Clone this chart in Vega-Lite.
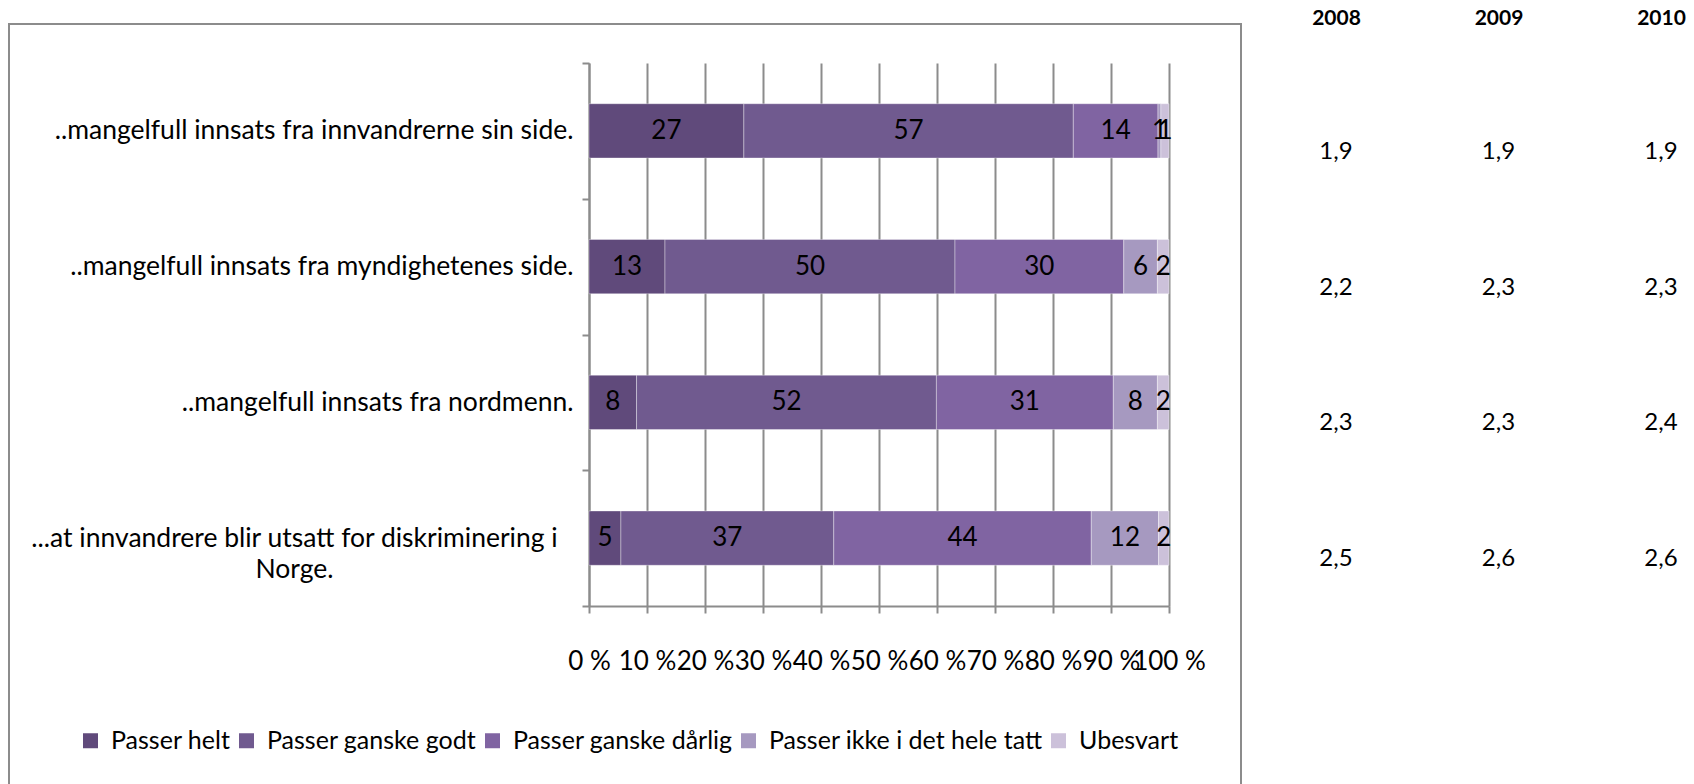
{
  "$schema": "https://vega.github.io/schema/vega-lite/v6.json",
  "autosize": {"type": "none"},
  "width": 1232,
  "height": 770,
  "padding": {"left": 9, "top": 24, "right": 453, "bottom": 0},
  "background": "white",
  "config": {
    "view": {"stroke": "#8c8c8c", "strokeWidth": 2},
    "font": "Lato",
    "text": {"font": "Lato"},
    "axis": {"labelFont": "Lato", "labelColor": "black", "domainColor": "#8c8c8c", "tickColor": "#8c8c8c", "gridColor": "#8c8c8c", "domainWidth": 2, "tickWidth": 2, "gridWidth": 2, "gridOpacity": 1}
  },
  "datasets": {
    "bars": [
      {"cat": "..mangelfull innsats fra innvandrerne sin side.", "resp": "Passer helt", "ord": 1, "value": 26.7, "label": "27"},
      {"cat": "..mangelfull innsats fra innvandrerne sin side.", "resp": "Passer ganske godt", "ord": 2, "value": 56.8, "label": "57"},
      {"cat": "..mangelfull innsats fra innvandrerne sin side.", "resp": "Passer ganske dårlig", "ord": 3, "value": 14.6, "label": "14"},
      {"cat": "..mangelfull innsats fra innvandrerne sin side.", "resp": "Passer ikke i det hele tatt", "ord": 4, "value": 0.5, "label": "1"},
      {"cat": "..mangelfull innsats fra innvandrerne sin side.", "resp": "Ubesvart", "ord": 5, "value": 1.4, "label": "1"},
      {"cat": "..mangelfull innsats fra myndighetenes side.", "resp": "Passer helt", "ord": 1, "value": 13.1, "label": "13"},
      {"cat": "..mangelfull innsats fra myndighetenes side.", "resp": "Passer ganske godt", "ord": 2, "value": 50.0, "label": "50"},
      {"cat": "..mangelfull innsats fra myndighetenes side.", "resp": "Passer ganske dårlig", "ord": 3, "value": 29.1, "label": "30"},
      {"cat": "..mangelfull innsats fra myndighetenes side.", "resp": "Passer ikke i det hele tatt", "ord": 4, "value": 5.8, "label": "6"},
      {"cat": "..mangelfull innsats fra myndighetenes side.", "resp": "Ubesvart", "ord": 5, "value": 2.0, "label": "2"},
      {"cat": "..mangelfull innsats fra nordmenn.", "resp": "Passer helt", "ord": 1, "value": 8.2, "label": "8"},
      {"cat": "..mangelfull innsats fra nordmenn.", "resp": "Passer ganske godt", "ord": 2, "value": 51.7, "label": "52"},
      {"cat": "..mangelfull innsats fra nordmenn.", "resp": "Passer ganske dårlig", "ord": 3, "value": 30.5, "label": "31"},
      {"cat": "..mangelfull innsats fra nordmenn.", "resp": "Passer ikke i det hele tatt", "ord": 4, "value": 7.6, "label": "8"},
      {"cat": "..mangelfull innsats fra nordmenn.", "resp": "Ubesvart", "ord": 5, "value": 2.0, "label": "2"},
      {"cat": "...at innvandrere blir utsatt for diskriminering i Norge.", "resp": "Passer helt", "ord": 1, "value": 5.5, "label": "5"},
      {"cat": "...at innvandrere blir utsatt for diskriminering i Norge.", "resp": "Passer ganske godt", "ord": 2, "value": 36.7, "label": "37"},
      {"cat": "...at innvandrere blir utsatt for diskriminering i Norge.", "resp": "Passer ganske dårlig", "ord": 3, "value": 44.4, "label": "44"},
      {"cat": "...at innvandrere blir utsatt for diskriminering i Norge.", "resp": "Passer ikke i det hele tatt", "ord": 4, "value": 11.6, "label": "12"},
      {"cat": "...at innvandrere blir utsatt for diskriminering i Norge.", "resp": "Ubesvart", "ord": 5, "value": 1.8, "label": "2"}
    ],
    "table": [
      {"cat": "..mangelfull innsats fra innvandrerne sin side.", "year": "2008", "score": "1,9"},
      {"cat": "..mangelfull innsats fra innvandrerne sin side.", "year": "2009", "score": "1,9"},
      {"cat": "..mangelfull innsats fra innvandrerne sin side.", "year": "2010", "score": "1,9"},
      {"cat": "..mangelfull innsats fra myndighetenes side.", "year": "2008", "score": "2,2"},
      {"cat": "..mangelfull innsats fra myndighetenes side.", "year": "2009", "score": "2,3"},
      {"cat": "..mangelfull innsats fra myndighetenes side.", "year": "2010", "score": "2,3"},
      {"cat": "..mangelfull innsats fra nordmenn.", "year": "2008", "score": "2,3"},
      {"cat": "..mangelfull innsats fra nordmenn.", "year": "2009", "score": "2,3"},
      {"cat": "..mangelfull innsats fra nordmenn.", "year": "2010", "score": "2,4"},
      {"cat": "...at innvandrere blir utsatt for diskriminering i Norge.", "year": "2008", "score": "2,5"},
      {"cat": "...at innvandrere blir utsatt for diskriminering i Norge.", "year": "2009", "score": "2,6"},
      {"cat": "...at innvandrere blir utsatt for diskriminering i Norge.", "year": "2010", "score": "2,6"}
    ]
  },
  "layer": [
    {
      "data": {"name": "bars"},
      "transform": [
        {"stack": "value", "groupby": ["cat"], "sort": [{"field": "ord", "order": "ascending"}], "as": ["v0", "v1"]},
        {"calculate": "(datum.v0 + datum.v1) / 2", "as": "mid"}
      ],
      "layer": [
        {
          "mark": {"type": "bar", "height": {"band": 0.4}, "stroke": "white", "strokeWidth": 0.6, "strokeOpacity": 0.6},
          "encoding": {
            "y": {
              "field": "cat", "type": "nominal",
              "scale": {"domain": ["..mangelfull innsats fra innvandrerne sin side.", "..mangelfull innsats fra myndighetenes side.", "..mangelfull innsats fra nordmenn.", "...at innvandrere blir utsatt for diskriminering i Norge."], "range": [39, 582], "paddingInner": 0, "paddingOuter": 0},
              "axis": {
                "title": null, "orient": "left", "offset": -580, "tickBand": "extent", "tickSize": 7,
                "labelFontSize": 26.5, "labelLimit": 800, "labelLineHeight": 31,
                "labelPadding": {"condition": {"test": "datum.value == '...at innvandrere blir utsatt for diskriminering i Norge.'", "value": 288}, "value": 9},
                "labelAlign": {"condition": {"test": "datum.value == '...at innvandrere blir utsatt for diskriminering i Norge.'", "value": "center"}, "value": "right"},
                "labelExpr": "datum.value == '...at innvandrere blir utsatt for diskriminering i Norge.' ? ['...at innvandrere blir utsatt for diskriminering i', 'Norge.'] : datum.label",
                "grid": false
              }
            },
            "x": {
              "field": "v0", "type": "quantitative",
              "scale": {"domain": [0, 100], "range": [580, 1160], "nice": false},
              "axis": {
                "title": null, "orient": "top", "offset": -582, "values": [0, 10, 20, 30, 40, 50, 60, 70, 80, 90, 100],
                "grid": true, "tickSize": -7, "labelFontSize": 26, "labelPadding": -35, "labelBaseline": "top", "labelOverlap": false, "labelFlush": false,
                "labelExpr": "datum.value + ' %'"
              }
            },
            "x2": {"field": "v1"},
            "color": {
              "field": "resp", "type": "nominal",
              "scale": {"domain": ["Passer helt", "Passer ganske godt", "Passer ganske dårlig", "Passer ikke i det hele tatt", "Ubesvart"], "range": ["#604a7b", "#705a8f", "#8064a2", "#a699c0", "#ccc1da"]},
              "legend": {
                "title": null, "orient": "none", "direction": "horizontal", "legendX": 69, "legendY": 704,
                "symbolType": "square", "symbolSize": 225, "symbolStrokeWidth": 0, "labelFont": "Lato", "labelFontSize": 25,
                "labelColor": "black", "labelLimit": 500, "columnPadding": 3, "labelOffset": 8
              }
            }
          }
        },
        {
          "mark": {"type": "text", "fontSize": 26, "color": "black", "baseline": "middle", "align": "center"},
          "encoding": {
            "y": {"field": "cat", "type": "nominal"},
            "x": {"field": "mid", "type": "quantitative"},
            "text": {"field": "label"}
          }
        }
      ]
    },
    {
      "data": {"name": "table"},
      "mark": {"type": "text", "fontSize": 24, "color": "black", "baseline": "middle", "align": "center", "dy": 21},
      "encoding": {
        "y": {"field": "cat", "type": "nominal"},
        "x": {
          "field": "year", "type": "ordinal",
          "scale": {"type": "point", "range": [1327, 1652], "padding": 0},
          "axis": {"title": null, "orient": "top", "domain": false, "ticks": false, "tickSize": 0, "labelPadding": 0, "labelBaseline": "alphabetic", "labelFontSize": 21, "labelFontWeight": "bold", "labelAngle": 0, "grid": false}
        },
        "text": {"field": "score"}
      }
    }
  ],
  "resolve": {"scale": {"x": "independent"}, "axis": {"x": "independent"}}
}
